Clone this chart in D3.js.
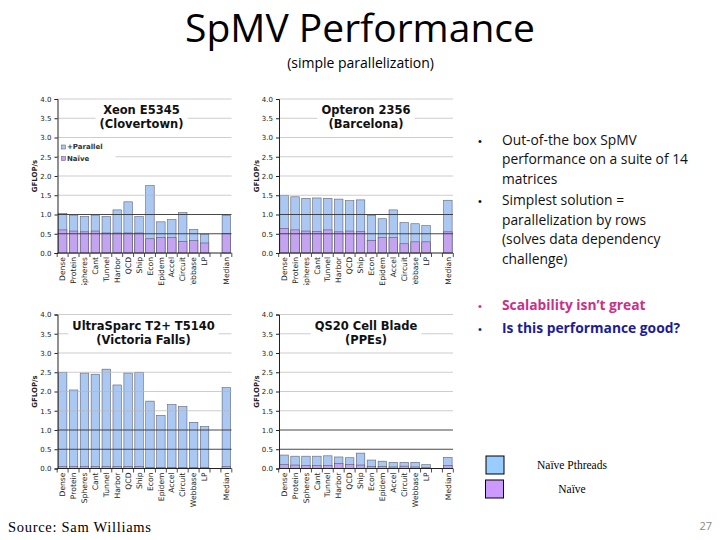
<!DOCTYPE html>
<html>
<head>
<meta charset="utf-8">
<script src="https://cdn.jsdelivr.net/npm/d3@7"></script>
<style>
  body { margin: 0; background: #fff; }
  svg { display: block; }
</style>
</head>
<body>
<svg id="chart" width="720" height="540"></svg>
<script>
// --- データ (図から読み取った値, GFLOP/s) ---
const categories = ["Dense", "Protein", "Spheres", "Cant", "Tunnel", "Harbor", "QCD", "Ship",
                    "Econ", "Epidem", "Accel", "Circuit", "Webbase", "LP", "Median"];
const yTicks = [0, 0.5, 1.0, 1.5, 2.0, 2.5, 3.0, 3.5, 4.0];

const xeonParallel = [1.03, 0.97, 0.95, 0.97, 0.95, 1.12, 1.33, 0.95, 1.75, 0.81, 0.87, 1.05, 0.61, 0.49, 0.98];
const xeonNaive    = [0.60, 0.57, 0.55, 0.57, 0.52, 0.52, 0.52, 0.52, 0.37, 0.40, 0.40, 0.30, 0.32, 0.26, 0.51];

const opteronParallel = [1.50, 1.46, 1.42, 1.43, 1.42, 1.40, 1.36, 1.38, 0.98, 0.89, 1.12, 0.79, 0.76, 0.71, 1.37];
const opteronNaive    = [0.64, 0.60, 0.57, 0.56, 0.60, 0.55, 0.57, 0.56, 0.33, 0.40, 0.40, 0.24, 0.29, 0.29, 0.55];

const vfParallel = [2.50, 2.04, 2.48, 2.45, 2.58, 2.17, 2.48, 2.50, 1.75, 1.38, 1.66, 1.61, 1.20, 1.09, 2.10];
const vfNaive    = [0.05, 0.05, 0.05, 0.05, 0.05, 0.05, 0.05, 0.05, 0.03, 0.03, 0.03, 0.03, 0.03, 0.03, 0.05];

const cellParallel = [0.35, 0.32, 0.32, 0.32, 0.33, 0.30, 0.28, 0.40, 0.22, 0.19, 0.16, 0.16, 0.16, 0.10, 0.29];
const cellNaive    = [0.10, 0.09, 0.08, 0.08, 0.08, 0.13, 0.10, 0.09, 0.05, 0.05, 0.04, 0.06, 0.04, 0.02, 0.08];

const legendLabels = ["+Parallel", "Naïve"];
const bottomLegend = ["Naïve Pthreads", "Naïve"];

// --- 色とレイアウト ---
const BLUE = "#aac8f2";
const PURPLE = "#c4a4f0";
const plotW = 174, plotH = 154;
const chartFont = "DejaVu Sans, Verdana, sans-serif";

const panels = [
    { title: ["Xeon E5345", "(Clovertown)"], parallel: xeonParallel, naive: xeonNaive, left: 57.5, top: 99, legend: true, clip: true, dx: -3 },
    { title: ["Opteron 2356", "(Barcelona)"], parallel: opteronParallel, naive: opteronNaive, left: 279, top: 99, clip: true, dx: 0 },
    { title: ["UltraSparc T2+ T5140", "(Victoria Falls)"], parallel: vfParallel, naive: vfNaive, left: 57.5, top: 314.5, dx: -1 },
    { title: ["QS20 Cell Blade", "(PPEs)"], parallel: cellParallel, naive: cellNaive, left: 279, top: 314.5, dx: 0 }
];

const svg = d3.select("#chart");
svg.append("rect").attr("width", 720).attr("height", 540).attr("fill", "#fff");

// LP と Median の間に空きスロットを1つ入れる
const slots = [...categories.slice(0, 14), " ", "Median"];

function drawPanel(p, idx) {
    const g = svg.append("g").attr("transform", `translate(${p.left},${p.top})`);
    const x = d3.scaleBand().domain(slots).range([0, plotW]).paddingInner(0.22).paddingOuter(0.08);
    const y = d3.scaleLinear().domain([0, 4]).range([plotH, 0]);

    // 棒 (並列 → ナイーブの順に重ねる)
    g.selectAll(".par").data(categories).join("rect")
        .attr("x", d => x(d)).attr("width", x.bandwidth())
        .attr("y", (d, i) => y(p.parallel[i]))
        .attr("height", (d, i) => plotH - y(p.parallel[i]))
        .attr("fill", BLUE).attr("stroke", "#3a3a4a").attr("stroke-width", 0.6).attr("stroke-opacity", 0.75);
    g.selectAll(".nai").data(categories).join("rect")
        .attr("x", d => x(d)).attr("width", x.bandwidth())
        .attr("y", (d, i) => y(p.naive[i]))
        .attr("height", (d, i) => plotH - y(p.naive[i]))
        .attr("fill", PURPLE).attr("stroke", "#3a3a4a").attr("stroke-width", 0.6).attr("stroke-opacity", 0.75);

    // グリッド線 (0.5 と 1.0 は濃い)
    g.selectAll(".grid").data(yTicks.slice(1)).join("line")
        .attr("x1", 0).attr("x2", plotW)
        .attr("y1", d => y(d)).attr("y2", d => y(d))
        .attr("stroke", d => d <= 1.0 ? "#333" : "#b8b8b8")
        .attr("stroke-width", d => d <= 1.0 ? 0.9 : 0.7);

    // タイトル (白背景付き)
    const tg = g.append("g");
    const tt = tg.append("text")
        .attr("text-anchor", "middle")
        .attr("font-family", chartFont).attr("font-weight", "bold").attr("font-size", 11.5)
        .attr("fill", "#111");
    p.title.forEach((line, i) => {
        tt.append("tspan").attr("x", plotW / 2 + p.dx).attr("y", 15 + i * 14).text(line);
    });
    const bb = tt.node().getBBox();
    tg.insert("rect", "text")
        .attr("x", bb.x - 4).attr("y", bb.y - 2)
        .attr("width", bb.width + 8).attr("height", bb.height + 4)
        .attr("fill", "#fff");

    // 凡例 (左上パネルのみ)
    if (p.legend) {
        const lg = g.append("g").attr("transform", `translate(2, ${y(3.0) + 3})`);
        lg.append("rect").attr("width", 56).attr("height", 22).attr("fill", "#fff");
        [BLUE, PURPLE].forEach((c, i) => {
            lg.append("rect").attr("x", 2).attr("y", 4.5 + i * 11.5)
                .attr("width", 4).attr("height", 4)
                .attr("fill", c).attr("stroke", "#555").attr("stroke-width", 0.5);
            lg.append("text").attr("x", 7.5).attr("y", 8.5 + i * 11.5)
                .attr("font-family", chartFont).attr("font-weight", "bold").attr("font-size", 7)
                .attr("fill", "#333").text(legendLabels[i]);
        });
    }

    // Y 軸
    const yAxis = g.append("g")
        .call(d3.axisLeft(y).tickValues(yTicks).tickFormat(d3.format(".1f")).tickSize(3).tickPadding(3));
    yAxis.select(".domain").attr("stroke", "#222");
    yAxis.selectAll(".tick line").attr("stroke", "#222");
    yAxis.selectAll("text").attr("font-family", chartFont).attr("font-size", 7).attr("fill", "#222");

    g.append("text")
        .attr("transform", `translate(-20.5, ${plotH / 2}) rotate(-90)`)
        .attr("text-anchor", "middle")
        .attr("font-family", chartFont).attr("font-weight", "bold").attr("font-size", 7)
        .attr("fill", "#222").text("GFLOP/s");

    // X 軸 (カテゴリ境界に目盛り)
    g.append("line").attr("x1", 0).attr("x2", plotW).attr("y1", plotH).attr("y2", plotH)
        .attr("stroke", "#222").attr("stroke-width", 1);
    const gapHalf = (x.step() - x.bandwidth()) / 2;
    const bounds = slots.map(s => x(s) - gapHalf).concat([x(slots[slots.length - 1]) + x.bandwidth() + gapHalf]);
    g.selectAll(".xtick").data(bounds).join("line")
        .attr("x1", d => d).attr("x2", d => d)
        .attr("y1", plotH).attr("y2", plotH + 4)
        .attr("stroke", "#222").attr("stroke-width", 0.8);

    const clipId = "clip" + idx;
    if (p.clip) {
        g.append("clipPath").attr("id", clipId)
            .append("rect").attr("x", -10).attr("y", plotH).attr("width", plotW + 20).attr("height", 32);
    }
    const xl = g.append("g").attr("clip-path", p.clip ? `url(#${clipId})` : null);
    xl.selectAll("text").data(categories).join("text")
        .attr("transform", d => `translate(${x(d) + x.bandwidth() / 2}, ${plotH + 4}) rotate(-90)`)
        .attr("dy", "0.35em")
        .attr("text-anchor", "end")
        .attr("font-family", chartFont).attr("font-size", 7.6)
        .attr("fill", "#222").text(d => d);
}

panels.forEach(drawPanel);

// --- スライドのテキスト ---
svg.append("text").attr("x", 360).attr("y", 42).attr("text-anchor", "middle")
    .attr("font-family", "Open Sans, sans-serif").attr("font-size", 39)
    .attr("fill", "#000").text("SpMV Performance");

svg.append("text").attr("x", 360.5).attr("y", 67.5).attr("text-anchor", "middle")
    .attr("font-family", "Open Sans, sans-serif").attr("font-size", 14)
    .attr("fill", "#000").text("(simple parallelization)");

const bullets = [
    { y: 144.5, lines: ["Out-of-the box SpMV", "performance on a suite of 14", "matrices"], color: "#111", bold: false },
    { y: 205, lines: ["Simplest solution =", "parallelization by rows", "(solves data dependency", "challenge)"], color: "#111", bold: false },
    { y: 309.5, lines: ["Scalability isn\u2019t great"], color: "#c8308a", bold: true },
    { y: 332.5, lines: ["Is this performance good?"], color: "#1c1c96", bold: true }
];
bullets.forEach(b => {
    svg.append("text").attr("x", 480).attr("y", b.y).attr("text-anchor", "middle")
        .attr("font-family", "Arial, sans-serif").attr("font-size", 11).attr("fill", b.color).text("\u2022");
    const t = svg.append("text")
        .attr("font-family", "Open Sans, sans-serif").attr("font-size", 13.8)
        .attr("font-weight", b.bold ? "bold" : "normal")
        .attr("fill", b.color);
    b.lines.forEach((line, i) => {
        t.append("tspan").attr("x", 502).attr("y", b.y + i * 19.5).text(line);
    });
});

// 下部の凡例
[{ c: "#99ccff", x: 486, y: 456 }, { c: "#cc99ff", x: 485.5, y: 480 }].forEach((s, i) => {
    svg.append("rect").attr("x", s.x).attr("y", s.y).attr("width", 18).attr("height", 18)
        .attr("fill", s.c).attr("stroke", "#000").attr("stroke-width", 1);
    svg.append("text").attr("x", 572).attr("y", s.y + 12.5).attr("text-anchor", "middle")
        .attr("font-family", "Liberation Serif, Times New Roman, serif").attr("font-size", 11.5)
        .attr("fill", "#000").text(bottomLegend[i]);
});

svg.append("text").attr("x", 8).attr("y", 532)
    .attr("font-family", "Liberation Serif, Times New Roman, serif").attr("font-size", 14.5)
    .attr("textLength", 143).attr("fill", "#000").text("Source: Sam Williams");

svg.append("text").attr("x", 712).attr("y", 530).attr("text-anchor", "end")
    .attr("font-family", "Open Sans, sans-serif").attr("font-size", 11)
    .attr("fill", "#888").text("27");
</script>
</body>
</html>
